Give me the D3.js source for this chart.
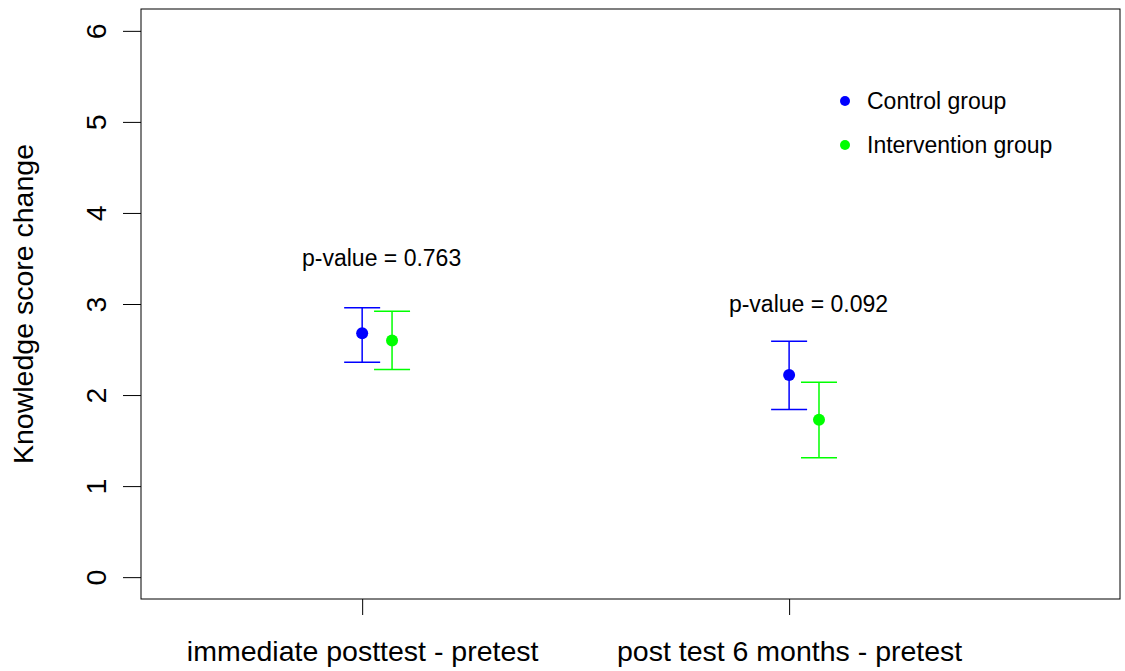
<!DOCTYPE html>
<html><head><meta charset="utf-8">
<script src="https://cdn.jsdelivr.net/npm/d3@7"></script>
<style>body{margin:0;background:#fff}svg{display:block;font-family:"Liberation Sans",Arial,sans-serif}</style>
</head><body><svg id="c" width="1125" height="671"></svg>
<script>
const categories = ["immediate posttest - pretest", "post test 6 months - pretest"];
const seriesNames = ["Control group", "Intervention group"];
const seriesColors = ["#0000ff", "#00ff00"];
const controlMean = [2.68, 2.22];
const controlLow = [2.36, 1.84];
const controlHigh = [2.96, 2.59];
const interventionMean = [2.60, 1.73];
const interventionLow = [2.28, 1.31];
const interventionHigh = [2.92, 2.14];
const pLabels = ["p-value = 0.763", "p-value = 0.092"];
const pLabelY = [3.5, 3.0];
const yTicks = [0, 1, 2, 3, 4, 5, 6];

const svg = d3.select("#c");
const L = 141, R = 1120, T = 9, B = 599;
const x = d3.scaleLinear().domain([0.482, 2.775]).range([L, R]);
const y = d3.scaleLinear().domain([-0.24, 6.24]).range([B, T]);
const offset = 0.07;
const axisFont = 28.5, smallFont = 23;

svg.append("rect").attr("x", L).attr("y", T).attr("width", R - L).attr("height", B - T)
  .attr("fill", "none").attr("stroke", "#000").attr("stroke-width", 1);

// y axis
const ya = svg.append("g").attr("transform", `translate(${L},0)`)
  .call(d3.axisLeft(y).tickValues(yTicks).tickSize(18).tickFormat(d3.format("d")));
ya.select(".domain").remove();
ya.selectAll("line").attr("stroke", "#000");
ya.selectAll("text").attr("font-size", axisFont).attr("fill", "#000")
  .attr("text-anchor", "middle").attr("dy", null).attr("x", null).attr("y", null)
  .attr("transform", "translate(-35,0) rotate(-90)");

// x axis
const xa = svg.append("g").attr("transform", `translate(0,${B})`)
  .call(d3.axisBottom(x).tickValues([1, 2]).tickSize(16).tickFormat(d => categories[d - 1]));
xa.select(".domain").remove();
xa.selectAll("line").attr("stroke", "#000");
xa.selectAll("text").attr("font-size", axisFont).attr("fill", "#000").attr("y", 62).attr("dy", null);

svg.append("text").attr("transform", `translate(32.5,${(y(0) + y(6)) / 2}) rotate(-90)`)
  .attr("text-anchor", "middle")
  .attr("font-size", axisFont).text("Knowledge score change");

const series = [
  {mean: controlMean, lo: controlLow, hi: controlHigh, dx: 0, color: seriesColors[0]},
  {mean: interventionMean, lo: interventionLow, hi: interventionHigh, dx: offset, color: seriesColors[1]}
];
const capHalf = 18;
series.forEach(s => {
  const g = svg.append("g");
  s.mean.forEach((m, i) => {
    const cx = x(i + 1 + s.dx);
    g.append("line").attr("x1", cx).attr("x2", cx).attr("y1", y(s.lo[i])).attr("y2", y(s.hi[i]))
      .attr("stroke", s.color).attr("stroke-width", 1.5);
    [s.lo[i], s.hi[i]].forEach(v => g.append("line").attr("x1", cx - capHalf).attr("x2", cx + capHalf)
      .attr("y1", y(v)).attr("y2", y(v)).attr("stroke", s.color).attr("stroke-width", 1.5));
    g.append("circle").attr("cx", cx).attr("cy", y(m)).attr("r", 6).attr("fill", s.color);
  });
});

pLabels.forEach((t, i) => {
  svg.append("text").attr("x", x(i + 1 + offset * 0.65)).attr("y", y(pLabelY[i]))
    .attr("text-anchor", "middle").attr("dominant-baseline", "central")
    .attr("font-size", smallFont).text(t);
});

// legend
const legY = [101, 145];
seriesNames.forEach((n, i) => {
  svg.append("circle").attr("cx", 845).attr("cy", legY[i]).attr("r", 5).attr("fill", seriesColors[i]);
  svg.append("text").attr("x", 867).attr("y", legY[i]).attr("dominant-baseline", "central")
    .attr("font-size", smallFont).text(n);
});
</script></body></html>
